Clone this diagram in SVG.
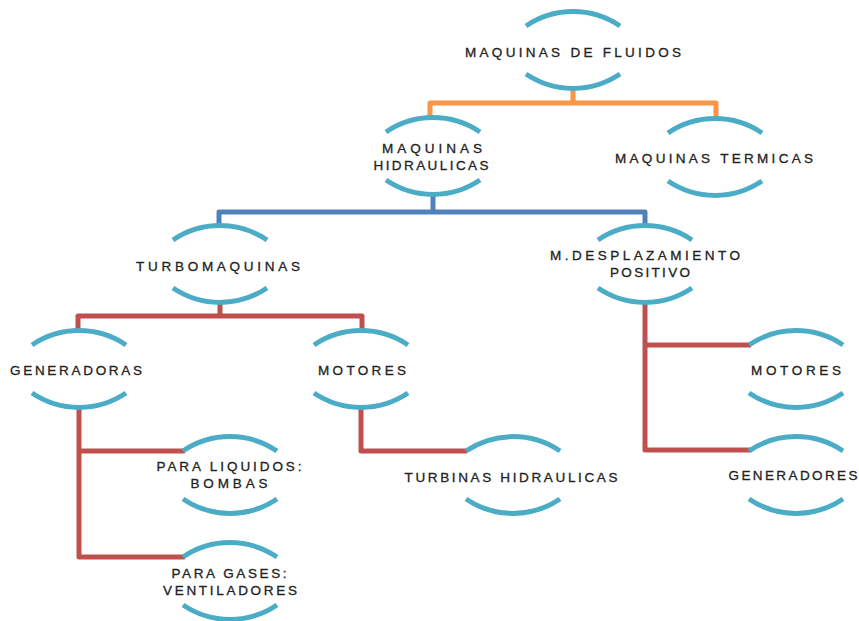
<svg xmlns="http://www.w3.org/2000/svg" width="859" height="621" viewBox="0 0 859 621">
<style>
.arc{fill:none;stroke:#4BACC6;stroke-width:5}
.c{fill:none;stroke-width:5;stroke-linejoin:round}
.o{stroke:#F79646}.b{stroke:#4F81BD}.r{stroke:#C0504D}
text{font-family:"Liberation Sans",Arial,sans-serif;font-size:13.5px;fill:#222;stroke:#222;stroke-width:0.3;text-anchor:middle}
</style>
<defs>
<path id="node" class="arc" d="M-47 -24 A84 84 0 0 1 47 -24 M-47 24 A84 84 0 0 0 47 24"/>
</defs>
<g id="connectors">
<path class="c o" d="M573 88 V103 M430 119 V103 H716 V119"/>
<path class="c b" d="M433 194 V212 M219 227 V212 H645 V227"/>
<path class="c r" d="M220 302 V316 M78 332 V316 H362 V332"/>
<path class="c r" d="M79 407 V557 H185 M79 451 H185"/>
<path class="c r" d="M361 407 V451 H467"/>
<path class="c r" d="M645 302 V450 H751 M645 345 H751"/>
</g>
<g id="n-fluidos"><use href="#node" x="573" y="50"/><text x="573" y="57" textLength="216" lengthAdjust="spacing">MAQUINAS DE FLUIDOS</text></g>
<g id="n-hidraulicas"><use href="#node" x="433" y="156"/><text x="432" y="153" textLength="100" lengthAdjust="spacing">MAQUINAS</text><text x="431" y="170" textLength="115" lengthAdjust="spacing">HIDRAULICAS</text></g>
<g id="n-termicas"><use href="#node" x="715" y="157"/><text x="714" y="163" textLength="198" lengthAdjust="spacing">MAQUINAS TERMICAS</text></g>
<g id="n-turbomaquinas"><use href="#node" x="220" y="264"/><text x="218" y="271" textLength="164" lengthAdjust="spacing">TURBOMAQUINAS</text></g>
<g id="n-desplazamiento"><use href="#node" x="645" y="264"/><text x="645" y="260" textLength="190" lengthAdjust="spacing">M.DESPLAZAMIENTO</text><text x="650" y="277" textLength="80" lengthAdjust="spacing">POSITIVO</text></g>
<g id="n-generadoras"><use href="#node" x="79" y="369"/><text x="76" y="375" textLength="132" lengthAdjust="spacing">GENERADORAS</text></g>
<g id="n-motores1"><use href="#node" x="361" y="369"/><text x="362" y="375" textLength="88" lengthAdjust="spacing">MOTORES</text></g>
<g id="n-motores2"><use href="#node" x="796" y="369"/><text x="796" y="375" textLength="90" lengthAdjust="spacing">MOTORES</text></g>
<g id="n-liquidos"><use href="#node" x="230" y="475"/><text x="229" y="471" textLength="145" lengthAdjust="spacing">PARA LIQUIDOS:</text><text x="229" y="488" textLength="77" lengthAdjust="spacing">BOMBAS</text></g>
<g id="n-turbinas"><use href="#node" x="513" y="475"/><text x="511" y="482" textLength="213" lengthAdjust="spacing">TURBINAS  HIDRAULICAS</text></g>
<g id="n-generadores"><use href="#node" x="796" y="475"/><text x="793" y="480" textLength="129" lengthAdjust="spacing">GENERADORES</text></g>
<g id="n-gases"><use href="#node" x="230" y="581"/><text x="229" y="578" textLength="115" lengthAdjust="spacing">PARA GASES:</text><text x="230" y="595" textLength="134" lengthAdjust="spacing">VENTILADORES</text></g>
</svg>
